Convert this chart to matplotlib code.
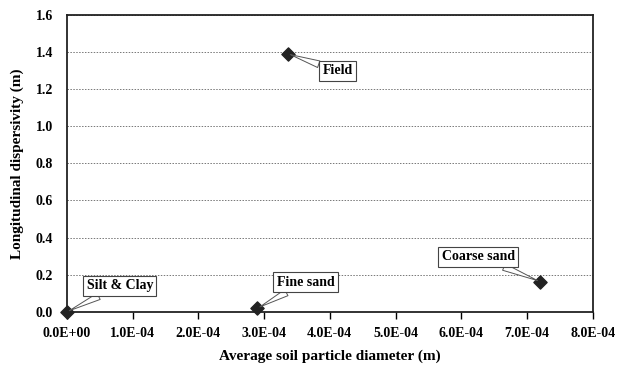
import matplotlib
matplotlib.use("Agg")
import matplotlib.pyplot as plt
from matplotlib.ticker import FuncFormatter

# Average particle diameter (m) vs longitudinal dispersivity (m)
soil_types = ["Silt & Clay", "Fine sand", "Field", "Coarse sand"]
diameter = [0.0, 2.9e-4, 3.36e-4, 7.2e-4]
dispersivity = [0.0, 0.02, 1.39, 0.163]

# callout offsets in pixels (label box centre relative to the point)
offsets = {
    "Silt & Clay": (53, 26),
    "Fine sand": (48, 26),
    "Field": (50, -17),
    "Coarse sand": (-62, 25),
}

plt.rcParams['font.family'] = ['Liberation Serif', 'DejaVu Serif']
plt.rcParams['font.weight'] = 'bold'

fig = plt.figure(figsize=(6.24, 3.67), dpi=100)
ax = fig.add_axes([0.107, 0.150, 0.843, 0.810])

ax.scatter(diameter, dispersivity, marker='D', s=45, color='#222222',
           edgecolors='#222222', zorder=5, clip_on=False)

for name, x, y in zip(soil_types, diameter, dispersivity):
    dx, dy = offsets[name]
    ax.annotate(name, (x, y), xytext=(dx, dy), textcoords='offset pixels',
                ha='center', va='center', fontsize=10, fontweight='bold',
                bbox=dict(boxstyle='square,pad=0.25', fc='white', ec='#444444', lw=0.8),
                arrowprops=dict(arrowstyle='wedge,tail_width=0.5,shrink_factor=0.5',
                                fc='white', ec='#555555', lw=0.7, shrinkA=0, shrinkB=2),
                zorder=6)

ax.set_xlim(0, 8e-4)
ax.set_ylim(0, 1.6)
ax.set_xticks([i * 1e-4 for i in range(9)])
ax.set_yticks([0.0, 0.2, 0.4, 0.6, 0.8, 1.0, 1.2, 1.4, 1.6])
ax.xaxis.set_major_formatter(FuncFormatter(
    lambda v, p: "%.1E" % v if v != 0 else "0.0E+00"))
ax.yaxis.set_major_formatter(FuncFormatter(lambda v, p: "%.1f" % v))

ax.tick_params(axis='x', direction='out', length=5, width=1, labelsize=10, pad=6)
ax.tick_params(axis='y', length=0, labelsize=10, pad=10)

ax.yaxis.grid(True, linestyle=(0, (1.5, 1.5)), color='#777777', linewidth=0.7)
ax.set_axisbelow(True)
for side in ax.spines.values():
    side.set_linewidth(1.3)
    side.set_color('#222222')

ax.set_xlabel("Average soil particle diameter (m)", fontsize=11, fontweight='bold', labelpad=7)
ax.set_ylabel("Longitudinal dispersivity (m)", fontsize=11, fontweight='bold', labelpad=8)

fig.savefig("out.png", dpi=100)
